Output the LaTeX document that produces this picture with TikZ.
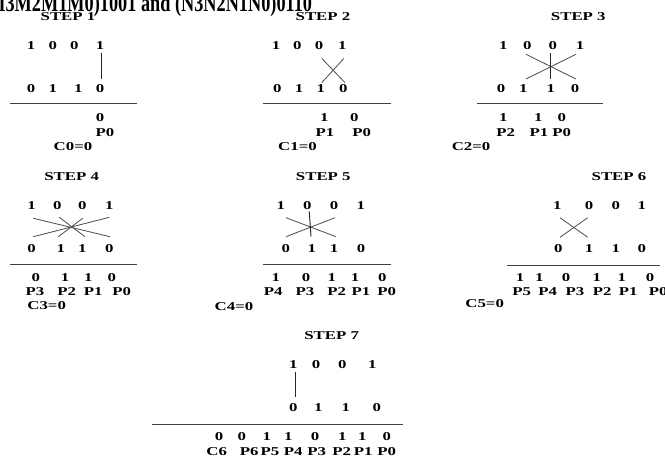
\documentclass[tikz,border=0pt]{standalone}
\usepackage{fontspec}
\setmainfont{Liberation Serif}
\newcommand{\sx}[1]{\scalebox{1.4}[1]{#1}}
\tikzset{
  txt/.style={inner sep=0pt, anchor=base, font=\fontsize{9}{10}\selectfont\bfseries, text=black},
  link/.style={draw=black!70, line width=0.6pt},
  vlink/.style={draw=black!85, line width=0.7pt},
  rule/.style={draw=black!75, line width=0.7pt}
}
\begin{document}
\begin{tikzpicture}[x=0.75pt,y=-0.75pt]
\useasboundingbox (0,0) rectangle (665,457);
\fill[white] (0,0) rectangle (665,457);
\node[inner sep=0pt, anchor=base west, font=\fontsize{13.7}{15}\selectfont\bfseries] (title) at (-18,11.3) {\scalebox{1}[1.35]{(M3M2M1M0)1001 and (N3N2N1N0)0110}};

% ---------- STEP 1 ----------
\node[txt] (h1) at (68,20.7) {\sx{STEP 1}};
\foreach \x/\t/\i in {31/1/1,52.7/0/2,74.3/0/3,100/1/4} \node[txt] (a1\i) at (\x,49) {\sx{\t}};
\foreach \x/\t/\i in {31/0/1,52.7/1/2,78.3/1/3,100/0/4} \node[txt] (b1\i) at (\x,92.7) {\sx{\t}};
\coordinate (r1l) at (10,103.3); \coordinate (r1r) at (136.7,103.3);
\draw[rule] (r1l) -- (r1r);
\coordinate (v1a) at (101.7,53); \coordinate (v1b) at (101.7,79);
\draw[vlink] (v1a) -- (v1b);
\node[txt] (d11) at (100,121.7) {\sx{0}};
\node[txt] (p11) at (105,136) {\sx{P0}};
\node[txt] (c1) at (73,150.7) {\sx{C0=0}};

% ---------- STEP 2 ----------
\node[txt] (h2) at (323,20.7) {\sx{STEP 2}};
\foreach \x/\t/\i in {276/1/1,297.3/0/2,319/0/3,342.3/1/4} \node[txt] (a2\i) at (\x,49) {\sx{\t}};
\foreach \x/\t/\i in {277.3/0/1,299/1/2,320.7/1/3,343.3/0/4} \node[txt] (b2\i) at (\x,92.7) {\sx{\t}};
\coordinate (r2l) at (263.3,103.3); \coordinate (r2r) at (390.7,103.3);
\draw[rule] (r2l) -- (r2r);
\coordinate (x2a) at (321.7,58.3); \coordinate (x2b) at (345,82.7);
\coordinate (x2c) at (344,58.3); \coordinate (x2d) at (321.7,82.7);
\draw[link] (x2a) -- (x2b); \draw[link] (x2c) -- (x2d);
\foreach \x/\t/\i in {324.3/1/1,354.3/0/2} \node[txt] (d2\i) at (\x,121.7) {\sx{\t}};
\foreach \x/\t/\i in {325/P1/1,361.7/P0/2} \node[txt] (p2\i) at (\x,136) {\sx{\t}};
\node[txt] (c2) at (297.5,150.7) {\sx{C1=0}};

% ---------- STEP 3 ----------
\node[txt] (h3) at (578.3,20.7) {\sx{STEP 3}};
\foreach \x/\t/\i in {503.3/1/1,527.3/0/2,552.7/0/3,580/1/4} \node[txt] (a3\i) at (\x,49) {\sx{\t}};
\foreach \x/\t/\i in {501/0/1,523.3/1/2,550.7/1/3,575/0/4} \node[txt] (b3\i) at (\x,92.7) {\sx{\t}};
\coordinate (r3l) at (476.7,103.3); \coordinate (r3r) at (603.3,103.3);
\draw[rule] (r3l) -- (r3r);
\coordinate (x3a) at (526,54.3); \coordinate (x3b) at (576,79);
\coordinate (x3c) at (576,54.3); \coordinate (x3d) at (526,79);
\coordinate (x3e) at (550.7,53.3); \coordinate (x3f) at (550.7,79.3);
\draw[link] (x3a) -- (x3b); \draw[link] (x3c) -- (x3d); \draw[vlink] (x3e) -- (x3f);
\foreach \x/\t/\i in {503.3/1/1,538.3/1/2,561.7/0/3} \node[txt] (d3\i) at (\x,121.7) {\sx{\t}};
\foreach \x/\t/\i in {505.7/P2/1,539/P1/2,561.7/P0/3} \node[txt] (p3\i) at (\x,136) {\sx{\t}};
\node[txt] (c3) at (471,150.3) {\sx{C2=0}};

% ---------- STEP 4 ----------
\node[txt] (h4) at (71.7,180) {\sx{STEP 4}};
\foreach \x/\t/\i in {31.7/1/1,57.3/0/2,82.3/0/3,109.3/1/4} \node[txt] (a4\i) at (\x,209) {\sx{\t}};
\foreach \x/\t/\i in {31.7/0/1,60.7/1/2,82.3/1/3,109.3/0/4} \node[txt] (b4\i) at (\x,252.7) {\sx{\t}};
\coordinate (r4l) at (10,264.3); \coordinate (r4r) at (136.7,264.3);
\draw[rule] (r4l) -- (r4r);
\coordinate (x4a) at (33.3,218.3); \coordinate (x4b) at (110,236.7);
\coordinate (x4c) at (109.3,217.3); \coordinate (x4d) at (33.3,236.7);
\coordinate (x4e) at (59.3,217.3); \coordinate (x4f) at (85,236.7);
\coordinate (x4g) at (82.7,218.3); \coordinate (x4h) at (58.3,236.7);
\draw[link] (x4a) -- (x4b); \draw[link] (x4c) -- (x4d);
\draw[link] (x4e) -- (x4f); \draw[link] (x4g) -- (x4h);
\foreach \x/\t/\i in {35.7/0/1,65/1/2,88.3/1/3,111.7/0/4} \node[txt] (d4\i) at (\x,281.7) {\sx{\t}};
\foreach \x/\t/\i in {35/P3/1,66.7/P2/2,93.3/P1/3,121.7/P0/4} \node[txt] (p4\i) at (\x,295.5) {\sx{\t}};
\node[txt] (c4) at (46.7,309) {\sx{C3=0}};

% ---------- STEP 5 ----------
\node[txt] (h5) at (323.3,180) {\sx{STEP 5}};
\foreach \x/\t/\i in {280.7/1/1,307.3/0/2,334/0/3,360.7/1/4} \node[txt] (a5\i) at (\x,209) {\sx{\t}};
\foreach \x/\t/\i in {285.7/0/1,311.7/1/2,334/1/3,361/0/4} \node[txt] (b5\i) at (\x,252.7) {\sx{\t}};
\coordinate (r5l) at (263.3,264.3); \coordinate (r5r) at (390.7,264.3);
\draw[rule] (r5l) -- (r5r);
\coordinate (x5a) at (286,217.7); \coordinate (x5b) at (336,236.7);
\coordinate (x5c) at (335,217.7); \coordinate (x5d) at (286,236.7);
\coordinate (x5e) at (309.3,211.7); \coordinate (x5f) at (311,236.7);
\draw[link] (x5a) -- (x5b); \draw[link] (x5c) -- (x5d); \draw[vlink] (x5e) -- (x5f);
\foreach \x/\t/\i in {275.7/1/1,306/0/2,331.7/1/3,355/1/4,382.3/0/5} \node[txt] (d5\i) at (\x,281.7) {\sx{\t}};
\foreach \x/\t/\i in {273.3/P4/1,305/P3/2,336.7/P2/3,361/P1/4,386.7/P0/5} \node[txt] (p5\i) at (\x,295.5) {\sx{\t}};
\node[txt] (c5) at (234,310) {\sx{C4=0}};

% ---------- STEP 6 ----------
\node[txt] (h6) at (619,180) {\sx{STEP 6}};
\foreach \x/\t/\i in {557.3/1/1,589/0/2,615.7/0/3,641.7/1/4} \node[txt] (a6\i) at (\x,209) {\sx{\t}};
\foreach \x/\t/\i in {558.3/0/1,589/1/2,615.7/1/3,641.7/0/4} \node[txt] (b6\i) at (\x,252.7) {\sx{\t}};
\coordinate (r6l) at (506.7,265); \coordinate (r6r) at (660,265);
\draw[rule] (r6l) -- (r6r);
\coordinate (x6a) at (560,217.7); \coordinate (x6b) at (587.7,237.3);
\coordinate (x6c) at (587.7,217.7); \coordinate (x6d) at (560,237.3);
\draw[link] (x6a) -- (x6b); \draw[link] (x6c) -- (x6d);
\foreach \x/\t/\i in {520/1/1,539.3/1/2,566/0/3,596.7/1/4,621.7/1/5,650/0/6} \node[txt] (d6\i) at (\x,281.7) {\sx{\t}};
\foreach \x/\t/\i in {521.7/P5/1,547.7/P4/2,575/P3/3,602.3/P2/4,628.3/P1/5,658.3/P0/6} \node[txt] (p6\i) at (\x,295.5) {\sx{\t}};
\node[txt] (c6) at (484.7,307.5) {\sx{C5=0}};

% ---------- STEP 7 ----------
\node[txt] (h7) at (331.7,339.3) {\sx{STEP 7}};
\foreach \x/\t/\i in {293.3/1/1,316/0/2,342.3/0/3,372.3/1/4} \node[txt] (a7\i) at (\x,368.3) {\sx{\t}};
\foreach \x/\t/\i in {293.3/0/1,318.3/1/2,345.7/1/3,376.7/0/4} \node[txt] (b7\i) at (\x,411.7) {\sx{\t}};
\coordinate (v7a) at (295,371.7); \coordinate (v7b) at (295,397.3);
\draw[vlink] (v7a) -- (v7b);
\coordinate (r7l) at (152,424); \coordinate (r7r) at (403.3,424);
\draw[rule] (r7l) -- (r7r);
\foreach \x/\t/\i in {219/0/1,241.7/0/2,266.7/1/3,288.3/1/4,315/0/5,342.3/1/6,362.3/1/7,386.7/0/8} \node[txt] (d7\i) at (\x,440.7) {\sx{\t}};
\foreach \x/\t/\i in {216.7/C6/1,249.3/P6/2,270/P5/3,293.3/P4/4,316.7/P3/5,341.7/P2/6,363.3/P1/7,386.7/P0/8} \node[txt] (p7\i) at (\x,455) {\sx{\t}};
\end{tikzpicture}
\end{document}
